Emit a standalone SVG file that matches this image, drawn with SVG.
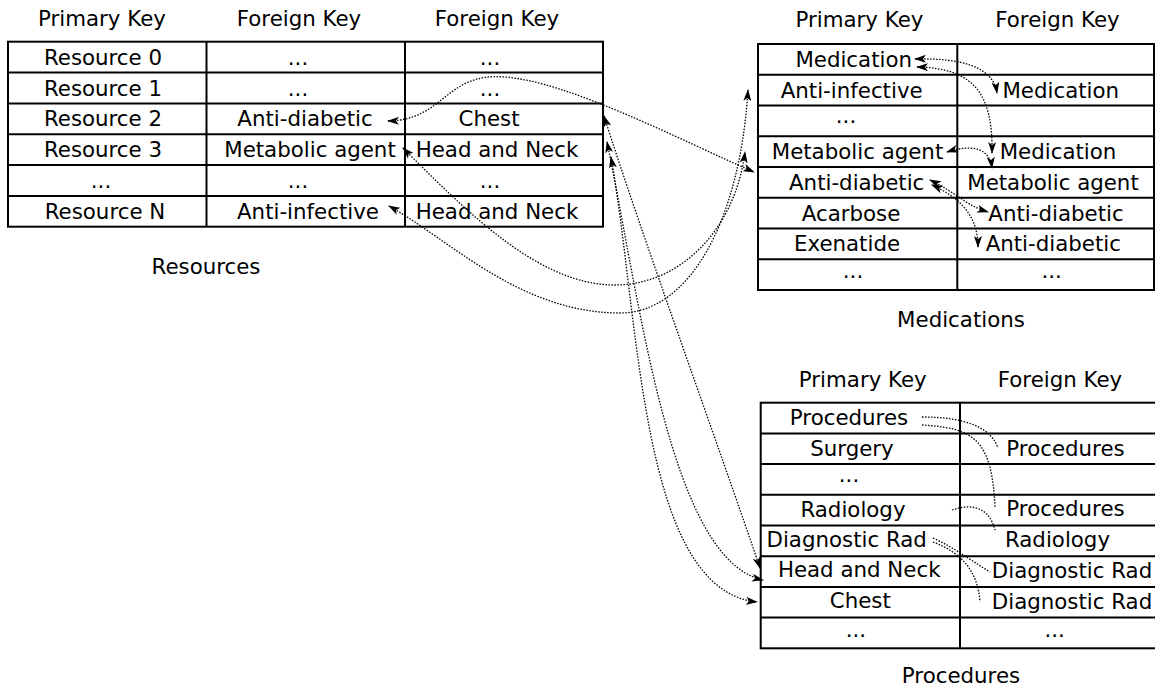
<svg xmlns="http://www.w3.org/2000/svg" width="1155" height="687" viewBox="0 0 1155 687">
<style>
text{font-family:"DejaVu Sans","Liberation Sans",sans-serif;font-size:21.33px;fill:#000;text-anchor:middle}
.tb{fill:#fff;stroke:#000;stroke-width:2}
.ln{stroke:#000;stroke-width:2;fill:none}
.cn{fill:none;stroke:#000;stroke-width:1.3;stroke-dasharray:1.5 1.5}
.ar{marker-start:url(#ah);marker-end:url(#ah)}
</style>
<defs>
<marker id="ah" viewBox="0 0 12 8" refX="11" refY="4" markerWidth="12" markerHeight="8" markerUnits="userSpaceOnUse" orient="auto-start-reverse">
<path d="M0,0 L12,4 L0,8 L3,4 z" fill="#000"/>
</marker>
</defs>
<rect width="1155" height="687" fill="#fff"/>

<g id="resources">
<text x="102" y="26">Primary Key</text>
<text x="299" y="26">Foreign Key</text>
<text x="497" y="26">Foreign Key</text>
<rect class="tb" x="8" y="41.7" width="595" height="185"/>
<path class="ln" d="M206.5 41.7V226.7M405 41.7V226.7M8 72.5H603M8 103.4H603M8 134.2H603M8 165H603M8 195.9H603"/>
<text x="103" y="64.5">Resource 0</text>
<text x="103" y="95.5">Resource 1</text>
<text x="103" y="126.3">Resource 2</text>
<text x="103" y="157">Resource 3</text>
<text x="101" y="188">...</text>
<text x="105" y="218.8">Resource N</text>
<text x="298" y="64.5">...</text>
<text x="298" y="95.5">...</text>
<text x="305" y="126.3">Anti-diabetic</text>
<text x="310" y="157">Metabolic agent</text>
<text x="298" y="188">...</text>
<text x="308" y="218.8">Anti-infective</text>
<text x="490" y="64.5">...</text>
<text x="490" y="95.5">...</text>
<text x="489" y="126.3">Chest</text>
<text x="497" y="157">Head and Neck</text>
<text x="490" y="188">...</text>
<text x="497" y="218.8">Head and Neck</text>
<text x="206" y="274">Resources</text>
</g>

<g id="medications">
<text x="859.5" y="27">Primary Key</text>
<text x="1057.5" y="27">Foreign Key</text>
<rect class="tb" x="758" y="44" width="396" height="246"/>
<path class="ln" d="M957.3 44V290M758 74.75H1154M758 105.5H1154M758 136.25H1154M758 167H1154M758 197.75H1154M758 228.5H1154M758 259.25H1154"/>
<text x="853.7" y="66.7">Medication</text>
<text x="851.7" y="97.5">Anti-infective</text>
<text x="846" y="123">...</text>
<text x="857.5" y="159">Metabolic agent</text>
<text x="856.7" y="189.7">Anti-diabetic</text>
<text x="851" y="220.5">Acarbose</text>
<text x="847" y="251.2">Exenatide</text>
<text x="853" y="278">...</text>
<text x="1060.8" y="97.5">Medication</text>
<text x="1058" y="159">Medication</text>
<text x="1053" y="189.7">Metabolic agent</text>
<text x="1056" y="220.5">Anti-diabetic</text>
<text x="1053.3" y="251.2">Anti-diabetic</text>
<text x="1051.7" y="278">...</text>
<text x="961" y="327">Medications</text>
</g>

<g id="procedures">
<text x="862.8" y="387">Primary Key</text>
<text x="1060" y="387">Foreign Key</text>
<rect class="tb" x="760.7" y="402.7" width="410" height="245.6"/>
<path class="ln" d="M960 402.7V648.3M760.7 433.4H1170M760.7 464.1H1170M760.7 494.8H1170M760.7 525.5H1170M760.7 556.2H1170M760.7 586.9H1170M760.7 617.6H1170"/>
<text x="849" y="425">Procedures</text>
<text x="852" y="455.7">Surgery</text>
<text x="849" y="482">...</text>
<text x="853" y="517">Radiology</text>
<text x="846.7" y="547">Diagnostic Rad</text>
<text x="859.2" y="577">Head and Neck</text>
<text x="860.3" y="607.5">Chest</text>
<text x="855.8" y="637">...</text>
<text x="1065.5" y="456">Procedures</text>
<text x="1065.5" y="515.5">Procedures</text>
<text x="1057.5" y="546.7">Radiology</text>
<text x="1072" y="578">Diagnostic Rad</text>
<text x="1072" y="608.5">Diagnostic Rad</text>
<text x="1054.7" y="637">...</text>
<text x="961" y="683">Procedures</text>
</g>

<g id="connectors">
<path class="cn ar" d="M388 121 C445 120 445 72 505 77 C570 82 680 140 754 172"/>
<path class="cn ar" d="M403 148 C470 215 540 285 615 285 C680 285 735 230 745 152"/>
<path class="cn ar" d="M389 206 C450 240 520 313 620 313 C690 313 740 220 748 90"/>
<path class="cn ar" d="M604 116 C640 230 720 450 760 568"/>
<path class="cn ar" d="M607 142 C640 300 670 560 763 580"/>
<path class="cn ar" d="M611 157 C640 320 640 590 757 602"/>
<path class="cn ar" d="M915 59 C960 58 993 66 997 93"/>
<path class="cn ar" d="M917 67 C975 68 993 95 992 153"/>
<path class="cn ar" d="M947 152 C975 143 990 150 992 168"/>
<path class="cn ar" d="M930 180 C960 195 965 205 988 212"/>
<path class="cn ar" d="M932 185 C965 200 978 220 978 247"/>
<path class="cn" d="M922 417 C960 417 990 425 998 448"/>
<path class="cn" d="M922 425 C975 428 992 440 995 508"/>
<path class="cn" d="M952 510 C975 502 990 510 995 530"/>
<path class="cn" d="M933 538 C955 548 970 560 990 572"/>
<path class="cn" d="M933 542 C960 552 978 570 980 602"/>
</g>
</svg>
